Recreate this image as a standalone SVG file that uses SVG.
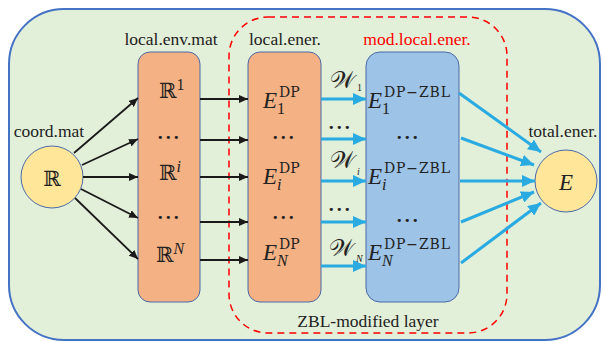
<svg xmlns="http://www.w3.org/2000/svg" width="603" height="341" viewBox="0 0 603 341">
<defs>
<style>
.lbl{font-family:"Liberation Serif",serif;font-size:17.5px;fill:#222}
.red{fill:#ff0000}
.box1{fill:#f4b183;stroke:#4a6aa8;stroke-width:1}
.box2{fill:#9dc3e6;stroke:#4a6aa8;stroke-width:1}
.circ{fill:#ffe699;stroke:#4a6aa8;stroke-width:1}
.m{font-family:"Liberation Serif",serif;fill:#222}
.E{font-style:italic;font-size:23px}
.sup{font-family:"DejaVu Serif",serif;font-size:14px;font-style:normal}
.sub{font-size:16px;font-style:normal}
.subi{font-size:16px;font-style:italic}
.R{font-family:"DejaVu Serif",serif;font-size:21px;fill:#222}
.dots{font-family:"DejaVu Sans",sans-serif;font-size:11px;fill:#222;letter-spacing:1.5px}
.blk{stroke:#1a1a1a;stroke-width:1.8;fill:none;marker-end:url(#ah)}
.blu{stroke:#29abe2;stroke-width:3;fill:none;marker-end:url(#bh)}
</style>
<marker id="ah" markerUnits="userSpaceOnUse" markerWidth="10" markerHeight="8" refX="9" refY="4" orient="auto"><path d="M0,0 L9,4 L0,8 Z" fill="#1a1a1a"/></marker>
<marker id="bh" markerUnits="userSpaceOnUse" markerWidth="14" markerHeight="12" refX="13" refY="6" orient="auto"><path d="M0,0 L13,6 L0,12 Z" fill="#29abe2"/></marker>
</defs>
<rect x="9" y="9" width="591" height="331" rx="55" ry="55" fill="#e2efd9" stroke="#4472c4" stroke-width="2"/>
<rect x="229" y="17" width="278" height="316" rx="39" ry="39" fill="none" stroke="#ff0000" stroke-width="1.5" stroke-dasharray="7,5"/>
<text class="lbl" x="368" y="327" text-anchor="middle">ZBL-modified layer</text>

<g id="coord">
<circle class="circ" cx="52" cy="177" r="31"/>
<text class="lbl" x="49" y="137" text-anchor="middle">coord.mat</text>
<text class="R" x="52" y="186" text-anchor="middle" font-size="27">ℝ</text>
</g>

<g id="envmat">
<rect class="box1" x="138" y="52" width="62" height="250" rx="12" ry="12"/>
<text class="lbl" x="171" y="45" text-anchor="middle">local.env.mat</text>
<text class="R" x="159" y="98">ℝ<tspan class="m sub" dy="-8" font-size="13">1</tspan></text>
<text class="dots" x="169" y="141" text-anchor="middle">•••</text>
<text class="R" x="159" y="180">ℝ<tspan class="m subi" dy="-8" font-size="13">i</tspan></text>
<text class="dots" x="169" y="221" text-anchor="middle">•••</text>
<text class="R" x="156" y="262">ℝ<tspan class="m subi" dy="-8" font-size="15">N</tspan></text>
</g>

<g id="localener">
<rect class="box1" x="248" y="52" width="73" height="250" rx="12" ry="12"/>
<text class="lbl" x="249" y="45">local.ener.</text>
<text class="m E" x="263" y="108">E<tspan class="sub" dy="6">1</tspan><tspan class="sup" x="279" y="97">DP</tspan></text>
<text class="dots" x="284" y="141" text-anchor="middle">•••</text>
<text class="m E" x="263" y="184">E<tspan class="subi" dy="6">i</tspan><tspan class="sup" x="279" y="173">DP</tspan></text>
<text class="dots" x="284" y="221" text-anchor="middle">•••</text>
<text class="m E" x="263" y="260">E<tspan class="subi" dy="6">N</tspan><tspan class="sup" x="279" y="249">DP</tspan></text>
</g>

<g id="modener">
<rect class="box2" x="366" y="52" width="93" height="250" rx="14" ry="14"/>
<text class="lbl red" x="417" y="45" text-anchor="middle">mod.local.ener.</text>
<text class="m E" x="368" y="108">E<tspan class="sub" dy="6">1</tspan><tspan class="sup" x="384" y="97" textLength="66">DP−ZBL</tspan></text>
<text class="dots" x="408" y="141" text-anchor="middle">•••</text>
<text class="m E" x="368" y="184">E<tspan class="subi" dy="6">i</tspan><tspan class="sup" x="384" y="173" textLength="66">DP−ZBL</tspan></text>
<text class="dots" x="408" y="224" text-anchor="middle">•••</text>
<text class="m E" x="368" y="260">E<tspan class="subi" dy="6">N</tspan><tspan class="sup" x="384" y="249" textLength="66">DP−ZBL</tspan></text>
</g>

<g id="total">
<circle class="circ" cx="566" cy="181" r="31"/>
<text class="lbl" x="563" y="137" text-anchor="middle">total.ener.</text>
<text class="m E" x="566" y="190" text-anchor="middle" font-size="27">E</text>
</g>

<g id="weights">
<text class="m" x="330" y="88" font-size="24">𝒲<tspan font-size="10" dx="2" dy="3">1</tspan></text>
<text class="dots" x="340" y="131" text-anchor="middle">•••</text>
<text class="m" x="330" y="168" font-size="24">𝒲<tspan font-size="10" font-style="italic" dx="2" dy="7">i</tspan></text>
<text class="dots" x="340" y="213" text-anchor="middle">•••</text>
<text class="m" x="329" y="256" font-size="24">𝒲<tspan font-size="10" font-style="italic" dx="2" dy="6">N</tspan></text>
</g>

<g id="connectors">
<line class="blk" x1="74" y1="153" x2="138" y2="98"/>
<line class="blk" x1="82" y1="165" x2="138" y2="139"/>
<line class="blk" x1="83" y1="177" x2="138" y2="177"/>
<line class="blk" x1="81" y1="189" x2="138" y2="218"/>
<line class="blk" x1="75" y1="198" x2="138" y2="259"/>
<line class="blk" x1="200" y1="99" x2="248" y2="99"/>
<line class="blk" x1="200" y1="140" x2="248" y2="140"/>
<line class="blk" x1="200" y1="177" x2="248" y2="177"/>
<line class="blk" x1="200" y1="222" x2="248" y2="222"/>
<line class="blk" x1="200" y1="260" x2="248" y2="260"/>
<line class="blu" x1="321" y1="99" x2="366" y2="99"/>
<line class="blu" x1="321" y1="139" x2="366" y2="139"/>
<line class="blu" x1="321" y1="181" x2="366" y2="181"/>
<line class="blu" x1="321" y1="222" x2="366" y2="222"/>
<line class="blu" x1="321" y1="266" x2="366" y2="266"/>
<line class="blu" x1="459" y1="93" x2="541" y2="152"/>
<line class="blu" x1="461" y1="138" x2="534" y2="165"/>
<line class="blu" x1="460" y1="181" x2="535" y2="181"/>
<line class="blu" x1="461" y1="222" x2="534" y2="192"/>
<line class="blu" x1="461" y1="263" x2="541" y2="203"/>
</g>
</svg>
